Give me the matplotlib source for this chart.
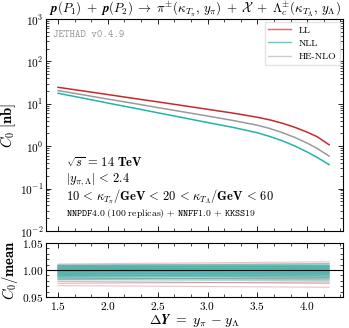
import numpy as np
import matplotlib
matplotlib.use('Agg')
import matplotlib.pyplot as plt
from matplotlib.ticker import AutoMinorLocator, LogLocator, FixedLocator, NullFormatter

plt.rcParams['mathtext.fontset'] = 'cm'
plt.rcParams['font.family'] = 'DejaVu Serif'

# rapidity separation grid
dy = [1.5, 1.75, 2.0, 2.25, 2.5, 2.75, 3.0, 3.25, 3.5, 3.625, 3.75, 3.875, 4.0, 4.1, 4.22]

# C0 [nb] central values
c0_ll = [24.5, 20.1, 16.5, 13.5, 11.1, 9.08, 7.41, 6.05, 4.81, 4.17, 3.48, 2.79, 2.14,
         1.67, 1.08]
c0_nll = [17.7, 13.6, 10.4, 8.00, 6.14, 4.71, 3.61, 2.79, 2.07, 1.69, 1.34, 1.01, 0.728,
          0.543, 0.367]
c0_henlo = [20.5, 16.3, 12.9, 10.3, 8.15, 6.47, 5.14, 4.06, 3.12, 2.61, 2.09, 1.61, 1.18,
            0.883, 0.583]

# replica / mean ratios, read at first and last dy
ll_rep_start = [0.971, 0.975, 0.979, 0.983, 0.986, 0.989, 0.991, 0.993, 0.995, 0.997,
                0.999, 1.001, 1.003, 1.005, 1.007, 1.009, 1.011]
ll_rep_end = [0.968, 0.978, 0.975, 0.986, 0.982, 0.992, 0.988, 0.996, 0.993, 1.000,
              0.997, 1.004, 1.002, 1.008, 1.006, 1.012, 1.015]
henlo_rep_start = [0.978, 0.982, 0.985, 0.988, 0.990, 0.992, 0.994, 0.996, 0.998,
                   1.000, 1.002, 1.004, 1.006, 1.008]
henlo_rep_end = [0.976, 0.984, 0.982, 0.990, 0.987, 0.995, 0.992, 0.999, 0.996,
                 1.003, 1.001, 1.007, 1.005, 1.011]
nll_rep_start = [0.982, 0.984, 0.986, 0.988, 0.989, 0.990, 0.991, 0.992, 0.993, 0.994,
                 0.995, 0.996, 0.997, 0.998, 0.999, 1.000, 1.001, 1.002, 1.003, 1.004,
                 1.005, 1.006, 1.007, 1.008, 1.009]
nll_rep_end = [0.980, 0.986, 0.984, 0.990, 0.987, 0.993, 0.989, 0.995, 0.991, 0.997,
               0.993, 0.999, 0.995, 1.001, 0.998, 1.003, 1.000, 1.005, 1.002, 1.007,
               1.004, 1.009, 1.006, 1.011, 1.008]

labels = ['LL', 'NLL', 'HE-NLO']
x_ticks = [1.5, 2.0, 2.5, 3.0, 3.5, 4.0]

red = '#c8282c'
teal = '#1fb5ad'
gray = '#9a9a9a'

fig = plt.figure(figsize=(3.49, 3.28), dpi=100)
ax = fig.add_axes([0.132, 0.296, 0.851, 0.646])
axr = fig.add_axes([0.132, 0.0945, 0.851, 0.165])

# main panel
ax.plot(dy, c0_ll, color=red, lw=1.1)
ax.plot(dy, c0_henlo, color=gray, lw=1.1)
ax.plot(dy, c0_nll, color=teal, lw=1.1)
ax.set_yscale('log')
ax.set_ylim(1e-2, 1e3)
ax.set_xlim(1.38, 4.36)
ax.yaxis.set_minor_locator(LogLocator(base=10, subs=np.arange(2, 10), numticks=20))
ax.set_yticks([1e-2, 1e-1, 1, 10, 100, 1000])
ax.set_yticklabels([r'$\mathbf{10^{-2}}$', r'$\mathbf{10^{-1}}$', r'$\mathbf{10^{0}}$',
                    r'$\mathbf{10^{1}}$', r'$\mathbf{10^{2}}$', r'$\mathbf{10^{3}}$'])
ax.yaxis.set_minor_formatter(NullFormatter())
ax.xaxis.set_major_locator(FixedLocator(x_ticks))
ax.xaxis.set_minor_locator(AutoMinorLocator(3))
ax.xaxis.set_major_formatter(NullFormatter())
ax.set_ylabel(r'$\boldsymbol{C_0}\ \mathbf{[nb]}$', fontsize=10.5, labelpad=1)

# legend with light lines
h1, = ax.plot([], [], color=red, lw=1.0, alpha=0.7)
h2, = ax.plot([], [], color=teal, lw=1.0, alpha=0.7)
h3, = ax.plot([], [], color=gray, lw=1.0, alpha=0.5)
ax.legend([h1, h2, h3], labels, loc='upper right',
          prop={'family': 'cmr10', 'size': 7}, frameon=True, fancybox=False,
          edgecolor='#dddddd', handlelength=2.3, borderaxespad=0.3, labelspacing=0.45,
          borderpad=0.4)

ax.set_title(r'$\boldsymbol{p(P_1)\;+\;p(P_2)\;\to\;\pi^{\pm}(\kappa_{T_\pi},\,y_\pi)\;+\;\mathcal{X}'
             r'\;+\;\Lambda_c^{\pm}(\kappa_{T_\Lambda},\,y_\Lambda)}$', fontsize=9.4, pad=1)

ax.text(0.022, 0.95, 'JETHAD v0.4.9', transform=ax.transAxes, family='cmtt10',
        fontsize=7.5, color='#999999', va='top', ha='left')
ax.text(0.068, 0.32, r'$\boldsymbol{\sqrt{s}}\,\mathbf{=\,14\ TeV}$', transform=ax.transAxes,
        fontsize=9, va='center')
ax.text(0.068, 0.24, r'$\boldsymbol{|y_{\pi,\Lambda}|}\,\mathbf{<\,2.4}$', transform=ax.transAxes,
        fontsize=9, va='center')
ax.text(0.068, 0.16, r'$\mathbf{10\,<\,}\boldsymbol{\kappa_{T_\pi}}\mathbf{/GeV\,<\,20\,<\,}'
        r'\boldsymbol{\kappa_{T_\Lambda}}\mathbf{/GeV\,<\,60}$',
        transform=ax.transAxes, fontsize=9, va='center')
ax.text(0.068, 0.08, r'$\mathtt{NNPDF4.0}\ \mathrm{(100\ replicas)}\,+\,\mathtt{NNFF1.0}\,+\,\mathtt{KKSS19}$',
        transform=ax.transAxes, fontsize=7.0, va='center')

# ratio panel
x_ends = [dy[0], dy[-1]]
for a, b in zip(ll_rep_start, ll_rep_end):
    axr.plot(x_ends, [a, b], color=red, lw=0.8, alpha=0.28)
for a, b in zip(henlo_rep_start, henlo_rep_end):
    axr.plot(x_ends, [a, b], color=gray, lw=0.8, alpha=0.35)
for a, b in zip(nll_rep_start, nll_rep_end):
    axr.plot(x_ends, [a, b], color=teal, lw=0.8, alpha=0.45)
axr.axhline(1.0, color='black', lw=0.8)
axr.set_xlim(1.38, 4.36)
axr.set_ylim(0.95, 1.05)
axr.set_yticks([0.95, 1.0, 1.05])
axr.set_yticklabels([r'$\mathbf{0.95}$', r'$\mathbf{1.00}$', r'$\mathbf{1.05}$'])
axr.yaxis.set_minor_locator(AutoMinorLocator(5))
axr.set_xticks(x_ticks)
axr.set_xticklabels([r'$\mathbf{%.1f}$' % v for v in x_ticks])
axr.xaxis.set_minor_locator(AutoMinorLocator(3))
axr.set_ylabel(r'$\boldsymbol{C_0}\mathbf{/mean}$', fontsize=10.5, labelpad=1)
axr.set_xlabel(r'$\boldsymbol{\Delta Y}\ \mathbf{=}\ \boldsymbol{y_\pi}\ \mathbf{-}\ \boldsymbol{y_\Lambda}$',
               fontsize=10, labelpad=0)

for a in (ax, axr):
    a.tick_params(which='both', direction='in', top=True, right=True, labelsize=8.2, pad=2)
    a.tick_params(which='major', length=3.5, width=0.6)
    a.tick_params(which='minor', length=2, width=0.5)
    for s in a.spines.values():
        s.set_linewidth(0.8)

fig.savefig('out.png', dpi=100)
